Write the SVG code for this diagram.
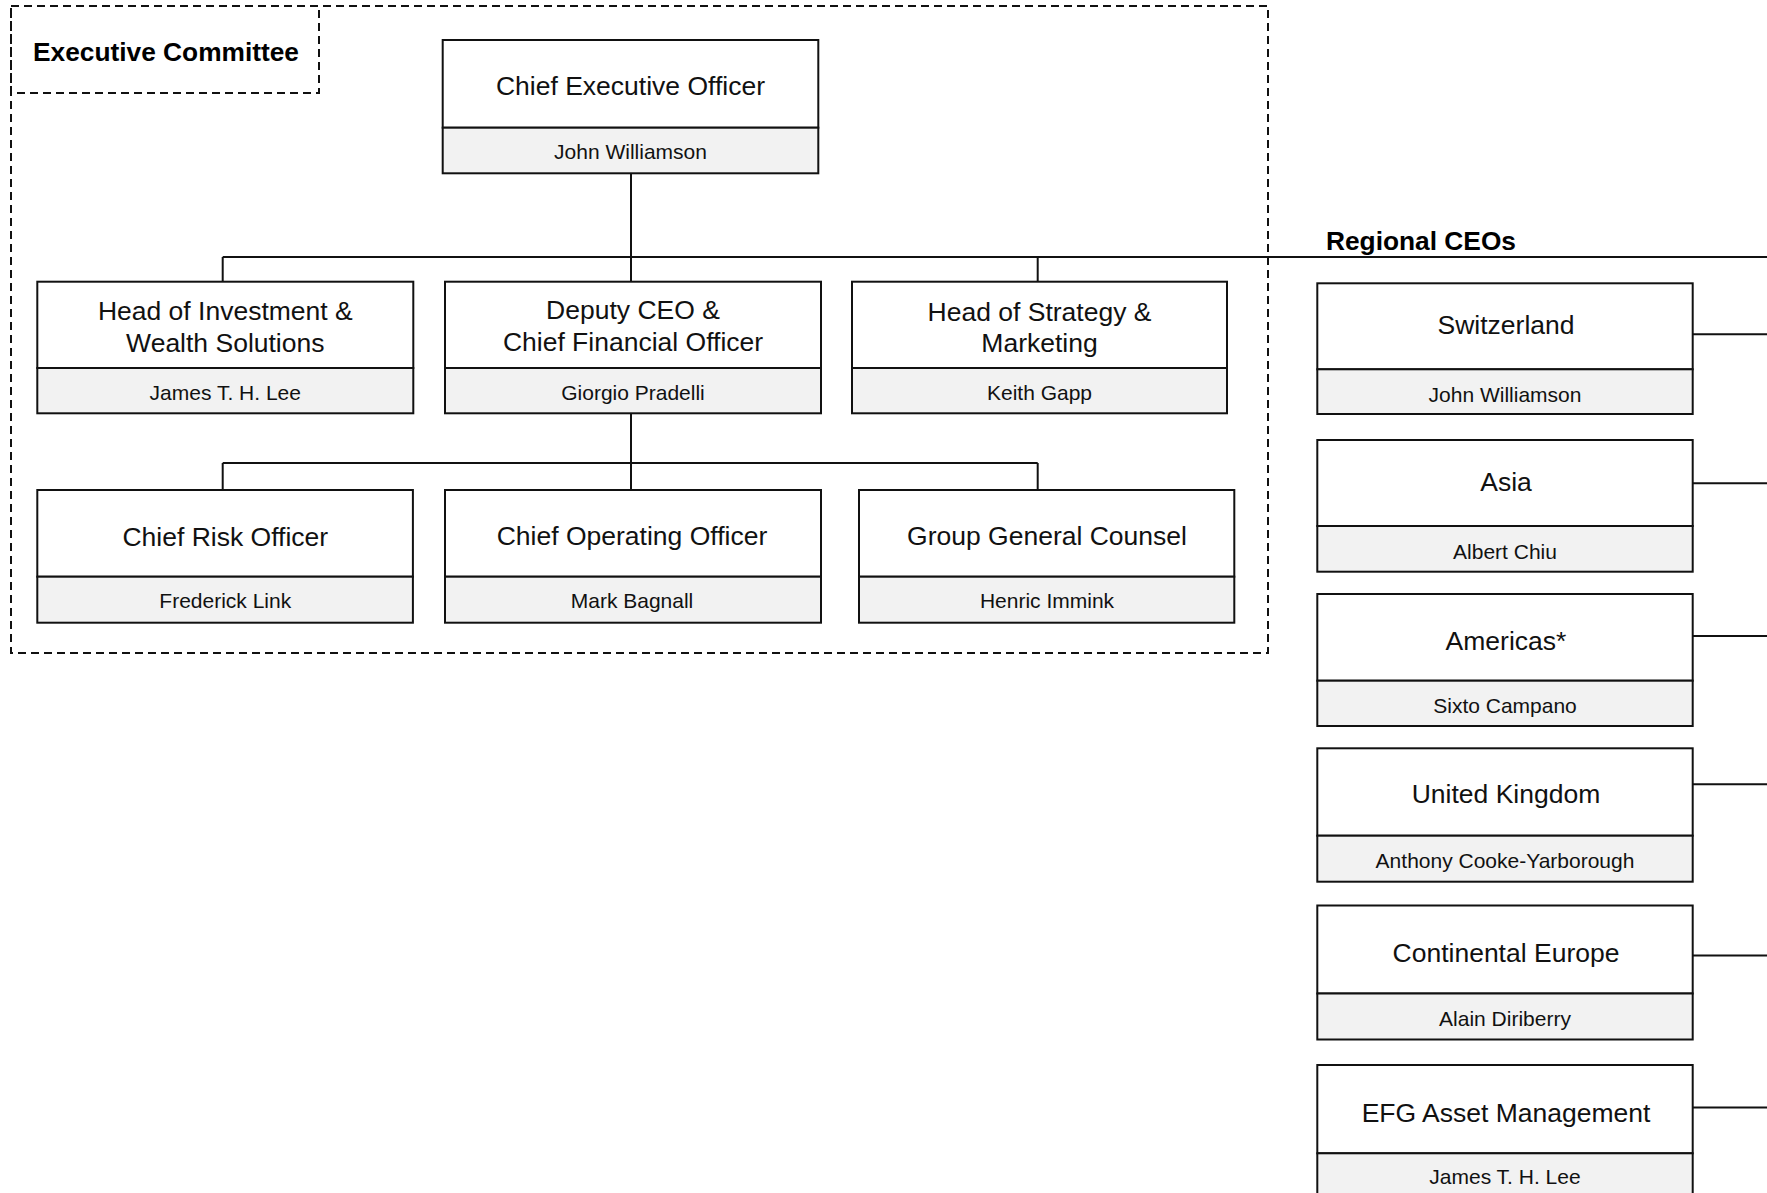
<svg xmlns="http://www.w3.org/2000/svg" width="1767" height="1193" viewBox="0 0 1767 1193">
<style>
.top{fill:#ffffff;stroke:#111;stroke-width:2}
.bot{fill:#f2f2f2;stroke:#111;stroke-width:2}
.t{font-family:"Liberation Sans",Arial,sans-serif;font-size:26.5px;fill:#111;text-anchor:middle}
.n{font-family:"Liberation Sans",Arial,sans-serif;font-size:21px;fill:#111;text-anchor:middle}
.b{font-family:"Liberation Sans",Arial,sans-serif;font-size:26.3px;font-weight:bold;fill:#000}
.dash{fill:none;stroke:#111;stroke-width:2;stroke-dasharray:8 5}
.c{fill:none;stroke:#111;stroke-width:2}
</style>
<rect width="1767" height="1193" fill="#ffffff"/>
<g id="executive-committee">
<rect class="dash" x="11" y="6" width="1257" height="647"/>
<rect class="dash" x="11" y="6" width="308" height="87"/>
<text class="b" x="33" y="61">Executive Committee</text>
</g>
<g id="connectors">
<path class="c" d="M631 173V282"/>
<path class="c" d="M222.7 257H1767"/>
<path class="c" d="M222.7 257V282"/>
<path class="c" d="M1037.7 257V282"/>
<path class="c" d="M631 413V490"/>
<path class="c" d="M222.7 463H1037.7"/>
<path class="c" d="M222.7 463V490"/>
<path class="c" d="M1037.7 463V490"/>
<path class="c" d="M1692.7 334.3H1767"/>
<path class="c" d="M1692.7 483.3H1767"/>
<path class="c" d="M1692.7 636H1767"/>
<path class="c" d="M1692.7 784.3H1767"/>
<path class="c" d="M1692.7 955.5H1767"/>
<path class="c" d="M1692.7 1107.5H1767"/>
</g>
<g id="ceo">
<rect class="top" x="442.7" y="40" width="375.6" height="87.7"/>
<rect class="bot" x="442.7" y="127.7" width="375.6" height="45.6"/>
<text class="t" x="630.5" y="95">Chief Executive Officer</text>
<text class="n" x="630.5" y="158.5">John Williamson</text>
</g>
<g id="investment">
<rect class="top" x="37.3" y="281.7" width="376" height="86.3"/>
<rect class="bot" x="37.3" y="368" width="376" height="45.3"/>
<text class="t" x="225.3" y="320">Head of Investment &amp;</text>
<text class="t" x="225.3" y="351.5">Wealth Solutions</text>
<text class="n" x="225.3" y="399.5">James T. H. Lee</text>
</g>
<g id="deputy-ceo">
<rect class="top" x="445" y="281.7" width="376" height="86.3"/>
<rect class="bot" x="445" y="368" width="376" height="45.3"/>
<text class="t" x="633" y="319">Deputy CEO &amp;</text>
<text class="t" x="633" y="351">Chief Financial Officer</text>
<text class="n" x="633" y="399.5">Giorgio Pradelli</text>
</g>
<g id="strategy">
<rect class="top" x="852" y="281.7" width="375" height="86.3"/>
<rect class="bot" x="852" y="368" width="375" height="45.3"/>
<text class="t" x="1039.5" y="320.5">Head of Strategy &amp;</text>
<text class="t" x="1039.5" y="352">Marketing</text>
<text class="n" x="1039.5" y="399.5">Keith Gapp</text>
</g>
<g id="cro">
<rect class="top" x="37.3" y="490" width="375.6" height="86.7"/>
<rect class="bot" x="37.3" y="576.7" width="375.6" height="46"/>
<text class="t" x="225.3" y="545.5">Chief Risk Officer</text>
<text class="n" x="225.3" y="607.7">Frederick Link</text>
</g>
<g id="coo">
<rect class="top" x="445" y="490" width="376" height="86.7"/>
<rect class="bot" x="445" y="576.7" width="376" height="46"/>
<text class="t" x="632" y="545">Chief Operating Officer</text>
<text class="n" x="632" y="607.7">Mark Bagnall</text>
</g>
<g id="counsel">
<rect class="top" x="859" y="490" width="375.3" height="86.7"/>
<rect class="bot" x="859" y="576.7" width="375.3" height="46"/>
<text class="t" x="1047" y="545">Group General Counsel</text>
<text class="n" x="1047" y="607.7">Henric Immink</text>
</g>
<g id="regional-label">
<text class="b" x="1326" y="250">Regional CEOs</text>
</g>
<g id="switzerland">
<rect class="top" x="1317.3" y="283.3" width="375.4" height="86"/>
<rect class="bot" x="1317.3" y="369.3" width="375.4" height="44.7"/>
<text class="t" x="1506" y="333.5">Switzerland</text>
<text class="n" x="1505" y="402">John Williamson</text>
</g>
<g id="asia">
<rect class="top" x="1317.3" y="440" width="375.4" height="86"/>
<rect class="bot" x="1317.3" y="526" width="375.4" height="45.7"/>
<text class="t" x="1506" y="491">Asia</text>
<text class="n" x="1505" y="558.5">Albert Chiu</text>
</g>
<g id="americas">
<rect class="top" x="1317.3" y="594" width="375.4" height="86.7"/>
<rect class="bot" x="1317.3" y="680.7" width="375.4" height="45.3"/>
<text class="t" x="1506" y="649.5">Americas*</text>
<text class="n" x="1505" y="712.5">Sixto Campano</text>
</g>
<g id="uk">
<rect class="top" x="1317.3" y="748.3" width="375.4" height="87.4"/>
<rect class="bot" x="1317.3" y="835.7" width="375.4" height="46"/>
<text class="t" x="1506" y="803">United Kingdom</text>
<text class="n" x="1505" y="868">Anthony Cooke-Yarborough</text>
</g>
<g id="continental-europe">
<rect class="top" x="1317.3" y="905.5" width="375.4" height="88"/>
<rect class="bot" x="1317.3" y="993.5" width="375.4" height="46"/>
<text class="t" x="1506" y="962">Continental Europe</text>
<text class="n" x="1505" y="1025.5">Alain Diriberry</text>
</g>
<g id="efg-asset-management">
<rect class="top" x="1317.3" y="1065" width="375.4" height="88.3"/>
<rect class="bot" x="1317.3" y="1153.3" width="375.4" height="46"/>
<text class="t" x="1506" y="1122">EFG Asset Management</text>
<text class="n" x="1505" y="1183.5">James T. H. Lee</text>
</g>
</svg>
